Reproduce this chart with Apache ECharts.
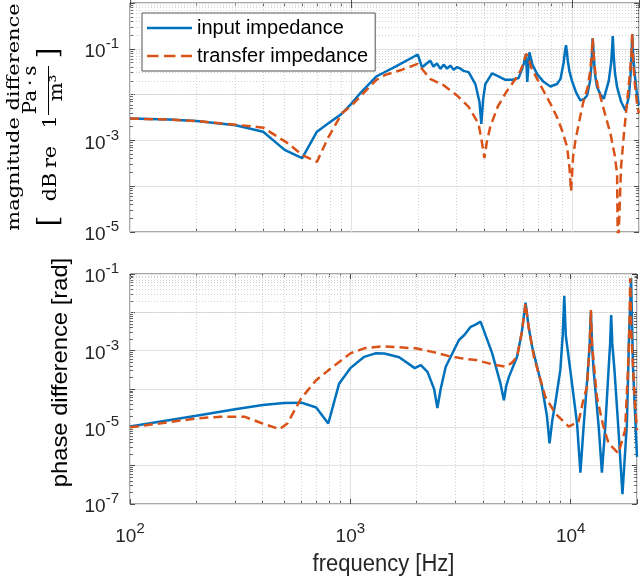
<!DOCTYPE html>
<html><head><meta charset="utf-8">
<script src="https://cdn.jsdelivr.net/npm/echarts@6/dist/echarts.min.js"></script>
<style>html,body{margin:0;padding:0;background:#fff}#c{width:640px;height:579px}</style>
</head><body><div id="c"></div>
<script>
// ---------- data ----------
const seriesNames = ['input impedance', 'transfer impedance'];
const freqRange = [100, 20000];
const magRange = [1e-5, 1];
const phaseRange = [1e-7, 1e-1];
const xLabelExps = [2, 3, 4];
const magLabelExps = [-1, -3, -5];
const phaseLabelExps = [-1, -3, -5, -7];

const magInputFreq = [100,150,200,300,400,500,600,700,800,900,1000,1100,1300,1400,1600,2000,2090,2275,2355,2441,2529,2618,2711,2807,2906,3008,3113,3223,3396,3641,3800,3874,3950,4040,4331,4560,4977,5330,5710,5920,6025,6170,6250,6390,6600,6925,7410,7950,8520,8835,9120,9250,9355,9450,9530,9700,9954,10400,10860,11300,11650,12000,12200,12350,12500,12650,12920,13400,13860,14600,14970,15120,15220,15300,15400,15570,15920,16600,17370,18000,18300,18500,18640,18800,19100,19500,19950];
const magInputVal  = [3.0e-3,2.85e-3,2.65e-3,2.15e-3,1.55e-3,6.2e-4,4.1e-4,1.55e-3,2.5e-3,3.7e-3,6.3e-3,1.08e-2,2.5e-2,3.0e-2,4.2e-2,7.5e-2,3.95e-2,5.5e-2,4.1e-2,4.8e-2,3.65e-2,4.5e-2,3.7e-2,4.3e-2,3.5e-2,4.0e-2,3.7e-2,3.3e-2,3.1e-2,1.7e-2,7.0e-3,2.3e-3,8.0e-3,1.7e-2,2.9e-2,2.6e-2,2.1e-2,2.1e-2,2.3e-2,3.6e-2,4.7e-2,7.7e-2,1.9e-2,8.4e-2,4.5e-2,2.8e-2,1.9e-2,1.5e-2,1.7e-2,2.2e-2,4.9e-2,8.5e-2,1.2e-1,8.0e-2,5.5e-2,3.2e-2,2.0e-2,1.1e-2,7.5e-3,8.0e-3,9.6e-3,1.9e-2,4.5e-2,1.7e-1,6.5e-2,2.8e-2,1.46e-2,1.0e-2,8.1e-3,2.0e-2,5.0e-2,1.0e-1,1.9e-1,1.1e-1,6.0e-2,3.0e-2,1.46e-2,7.0e-3,4.5e-3,9.0e-3,2.5e-2,7.0e-2,2.1e-1,8.0e-2,3.0e-2,1.2e-2,5.9e-3];

const magTransferFreq = [100,150,200,300,400,518,600,700,790,908,1000,1300,1426,1700,2000,2275,2617,3004,3396,3764,3900,4000,4100,4254,4600,5059,5500,5820,6025,6170,6300,6500,6925,7410,8000,8520,9000,9460,9700,9860,10070,10320,10800,11250,11700,12000,12200,12350,12500,12700,13000,13400,14100,14860,15500,15920,16050,16150,16600,17100,18000,18300,18500,18640,18800,19100,19550,19950];
const magTransferVal  = [3.0e-3,2.85e-3,2.65e-3,2.2e-3,1.9e-3,8.6e-4,4.8e-4,3.4e-4,1.2e-3,3.9e-3,5.7e-3,2.1e-2,2.7e-2,3.5e-2,4.7e-2,2.2e-2,1.6e-2,9.6e-3,5.4e-3,2.3e-3,9.0e-4,4.1e-4,9.0e-4,2.0e-3,5.5e-3,1.2e-2,2.1e-2,3.3e-2,5.0e-2,7.7e-2,7.0e-2,4.0e-2,2.2e-2,1.2e-2,6.0e-3,3.2e-3,1.6e-3,7.3e-4,2.5e-4,7.7e-5,4.4e-4,1.0e-3,3.0e-3,7.5e-3,1.4e-2,3.0e-2,6.5e-2,1.7e-1,6.5e-2,3.0e-2,1.6e-2,8.8e-3,3.5e-3,1.4e-3,5.0e-4,1.9e-4,3e-6,3e-6,2.7e-4,1.4e-3,1.7e-2,4.0e-2,9.0e-2,2.1e-1,6.0e-2,2.0e-2,7.0e-3,3.9e-3];

const phaseInputFreq = [100,200,300,400,500,600,700,794,890,1000,1156,1300,1426,1667,1960,2090,2240,2400,2484,2570,2710,3112,3300,3516,3700,3900,4405,4800,4977,5100,5250,5710,6000,6240,6450,6685,7410,7800,8020,8250,8520,8980,9200,9355,9500,9954,10690,11070,11450,11980,12200,12350,12500,12700,13400,13860,14360,14860,15100,15270,15450,15800,16480,17180,18000,18400,18650,18800,18950,19200,20000];
const phaseInputVal  = [1.05e-5,2.0e-5,2.95e-5,3.8e-5,4.3e-5,4.4e-5,3.3e-5,1.26e-5,1.4e-4,3.5e-4,6.9e-4,8.5e-4,8.4e-4,6.7e-4,3.5e-4,4.2e-4,2.8e-4,1.0e-4,3.2e-5,1.0e-4,3.8e-4,1.9e-3,2.6e-3,4.2e-3,4.8e-3,5.7e-3,8.5e-4,1.4e-4,5.1e-5,1.2e-4,2.1e-4,6.9e-4,3.0e-3,1.8e-2,4.0e-3,1.26e-3,1.15e-4,2.0e-5,3.8e-6,1.5e-5,4.3e-5,3.2e-4,2.5e-3,2.7e-2,2.5e-3,3.2e-4,1.26e-5,6.6e-7,1.05e-5,3.2e-4,1.5e-3,1.04e-2,1.5e-3,3.2e-4,1.05e-5,6.6e-7,1.05e-5,3.2e-4,1.5e-3,8.5e-3,1.5e-3,3.2e-4,8.5e-6,1.8e-7,1.26e-5,2.3e-3,2.0e-2,7.7e-2,1.0e-2,3.2e-4,1.7e-6];

const phaseTransferFreq = [100,200,260,330,394,477,518,598,700,817,1000,1156,1400,1982,2355,2806,3200,3708,4485,5059,5400,5710,6000,6240,6450,6806,7670,8520,9800,10860,11400,11860,12200,12350,12500,13150,14000,14860,16480,17660,18200,18500,18640,18850,19550,20000];
const phaseTransferVal  = [1.0e-5,1.7e-5,1.9e-5,1.9e-5,1.3e-5,8.9e-6,1.26e-5,5.7e-5,1.7e-4,3.5e-4,8.5e-4,1.15e-3,1.3e-3,1.15e-3,9.3e-4,7.2e-4,6.3e-4,5.7e-4,4.3e-4,3.8e-4,4.8e-4,6.9e-4,3.0e-3,1.7e-2,4.0e-3,6.9e-4,6.3e-5,2.3e-5,1.05e-5,1.4e-5,5.0e-5,1.15e-4,1.5e-3,1.15e-2,1.5e-3,6.3e-5,1.2e-5,3.8e-6,2.1e-6,8.5e-6,3.2e-4,5.0e-3,7.7e-2,3.0e-3,4.3e-5,8.5e-6];

// ---------- helpers ----------
function minorValues(e0, e1) {
  const out = [];
  for (let e = e0; e < e1; e++) for (let m = 2; m <= 9; m++) out.push(+(m * Math.pow(10, e)).toPrecision(6));
  return out;
}
const xMinor = minorValues(2, 5).filter(v => v < freqRange[1]);
const magMinor = minorValues(-5, 0);
const phaseMinor = minorValues(-7, -1);
const pairs = (f, v) => f.map((x, i) => [x, v[i]]);

const AX = '#262626';
const FONT = 'Liberation Sans';
const BLUE = '#0072BD', RED = '#D95319';
const rich = {
  b: {fontSize: 19, fontFamily: FONT, color: AX, padding: [6, 0, 0, 0]},
  s: {fontSize: 15, fontFamily: FONT, color: AX, padding: [0, 0, 10, 0]}
};
function powLabel(exps) {
  return function (v) {
    const l = Math.log10(v), e = Math.round(l);
    if (Math.abs(l - e) > 1e-6 || exps.indexOf(e) < 0) return '';
    return '{b|10}{s|' + e + '}';
  };
}
const majorGrid = {show: true, lineStyle: {color: '#e2e2e2', width: 1}};
const majorTick = {show: true, inside: true, length: 5, lineStyle: {color: AX, width: 0.8}};

function logAxis(gridIndex, position, range, o) {
  return Object.assign({
    type: 'log', logBase: 10, gridIndex: gridIndex, position: position,
    min: range[0], max: range[1],
    axisLine: {show: false}, axisTick: majorTick,
    axisLabel: {show: false}, splitLine: {show: false}
  }, o || {});
}
// minor tick marks: a plain axis over the decade exponents of the same range
function minorAxis(gridIndex, position, range, vals) {
  return {
    type: 'value', gridIndex: gridIndex, position: position,
    min: Math.log10(range[0]), max: Math.log10(range[1]), interval: 100,
    axisLine: {show: false}, axisLabel: {show: false}, splitLine: {show: false},
    axisTick: {show: true, inside: true, length: 3, customValues: vals.map(v => Math.log10(v)),
      lineStyle: {color: AX, width: 0.7}}
  };
}

const xAxis = [], yAxis = [];
[0, 1].forEach(g => {
  const yr = g === 0 ? magRange : phaseRange;
  const ym = g === 0 ? magMinor : phaseMinor;
  const ye = g === 0 ? magLabelExps : phaseLabelExps;
  xAxis.push(logAxis(g, 'bottom', freqRange, {splitLine: majorGrid,
    axisLabel: g === 1 ? {show: true, interval: 0, margin: 17, formatter: powLabel(xLabelExps), rich: rich} : {show: false}}));
  xAxis.push(logAxis(g, 'top', freqRange));
  xAxis.push(minorAxis(g, 'bottom', freqRange, xMinor));
  xAxis.push(minorAxis(g, 'top', freqRange, xMinor));
  yAxis.push(logAxis(g, 'left', yr, {splitLine: majorGrid,
    axisLabel: {show: true, interval: 0, margin: 11, formatter: powLabel(ye), rich: rich}}));
  yAxis.push(logAxis(g, 'right', yr));
  yAxis.push(minorAxis(g, 'left', yr, ym));
  yAxis.push(minorAxis(g, 'right', yr, ym));
});

function gridLines(g, xs, ys) {
  return {type: 'line', xAxisIndex: g * 4, yAxisIndex: g * 4, data: [], silent: true, z: 1,
    markLine: {silent: true, z: 1, animation: false, symbol: ['none', 'none'], label: {show: false},
      lineStyle: {type: [1, 2], color: '#c6c6c6', width: 0.8},
      emphasis: {disabled: true},
      data: xs.map(v => ({xAxis: v})).concat(ys.map(v => ({yAxis: v})))}};
}
function curve(g, name, data, color, dashed, z) {
  return {type: 'line', name: name, xAxisIndex: g * 4, yAxisIndex: g * 4, data: data,
    symbol: 'none', showSymbol: false, z: z, silent: true,
    lineStyle: {color: color, width: 2.5, type: dashed ? [9, 5] : 'solid'},
    itemStyle: {color: color}};
}

const series = [
  gridLines(0, xMinor, magMinor),
  gridLines(1, xMinor, phaseMinor),
  curve(0, seriesNames[0], pairs(magInputFreq, magInputVal), BLUE, false, 3),
  curve(0, seriesNames[1], pairs(magTransferFreq, magTransferVal), RED, true, 4),
  curve(1, seriesNames[0], pairs(phaseInputFreq, phaseInputVal), BLUE, false, 3),
  curve(1, seriesNames[1], pairs(phaseTransferFreq, phaseTransferVal), RED, true, 4)
];

const serif = 'DejaVu Serif';
function rtext(str, x, y, size, family, sx) {
  return {type: 'text', x: x, y: y, rotation: Math.PI / 2, scaleX: sx || 1, z: 100,
    style: {text: str, fontSize: size, fontFamily: family, fill: '#000', align: 'center', verticalAlign: 'middle'}};
}

const option = {
  animation: false,
  backgroundColor: '#fff',
  grid: [
    {left: 130, right: 1, top: 3, height: 229, show: true, borderColor: AX, borderWidth: 0.8, backgroundColor: 'transparent'},
    {left: 130, right: 1, top: 274, height: 230, show: true, borderColor: AX, borderWidth: 0.8, backgroundColor: 'transparent'}
  ],
  legend: {
    data: [
      {name: seriesNames[0], icon: 'path://M0,0H45V2.5H0Z'},
      {name: seriesNames[1], icon: 'path://M0,0H11.5V2.5H0Z M17,0H28.5V2.5H17Z M34,0H45V2.5H34Z'}
    ],
    orient: 'vertical', left: 142, top: 13, selectedMode: false,
    itemWidth: 45, itemHeight: 2.5, itemGap: 6, padding: [4, 7, 4, 5],
    borderColor: AX, borderWidth: 0.8, backgroundColor: '#fff',
    textStyle: {fontSize: 20, fontFamily: FONT, color: '#000', lineHeight: 22}
  },
  xAxis: xAxis, yAxis: yAxis, series: series,
  graphic: [
    rtext('magnitude difference', 15, 117, 17, serif, 1.23),
    rtext('[', 50, 221, 28, serif, 1),
    rtext('dB', 51, 187, 18, serif, 1.15),
    rtext('re', 51, 157, 18, serif, 1.15),
    rtext('1', 51, 122, 18, serif, 1.15),
    rtext('Pa\u2009\u00b7\u2009s', 31, 90, 18, serif, 1.1),
    {type: 'line', z: 100, shape: {x1: 48.5, y1: 115, x2: 48.5, y2: 66}, style: {stroke: '#000', lineWidth: 1}},
    rtext('m\u00b3', 57, 88, 18, serif, 1.1),
    rtext(']', 50, 53, 28, serif, 1),
    rtext('phase difference [rad]', 61, 372.5, 22, FONT, 1.08),
    {type: 'text', x: 383.5, y: 564, z: 100, scaleY: 1.1,
      style: {text: 'frequency [Hz]', fontSize: 22, fontFamily: FONT, fill: '#262626', align: 'center', verticalAlign: 'middle'}}
  ]
};
const chart = echarts.init(document.getElementById('c'), null, {renderer: 'canvas'});
chart.setOption(option);
</script></body></html>
